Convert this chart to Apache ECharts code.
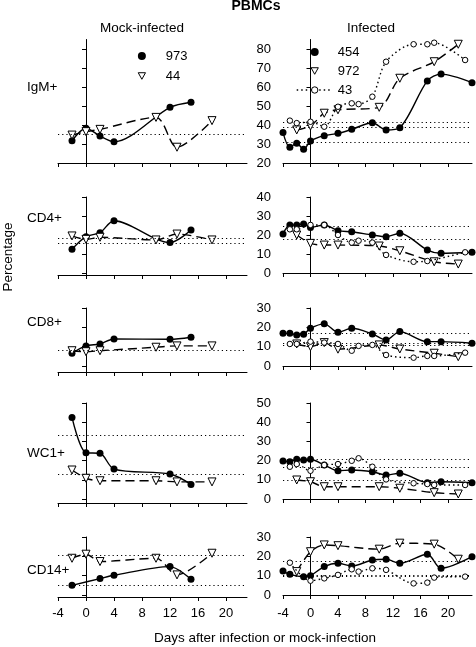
<!DOCTYPE html>
<html><head><meta charset="utf-8">
<script src="https://cdn.jsdelivr.net/npm/echarts@6/dist/echarts.min.js"></script>
<style>html,body{margin:0;padding:0;background:#fff}#c{width:476px;height:647px}</style>
</head><body><div id="c"></div>
<script>
// ---------------- DATA ----------------
const rowLabels = ['IgM+', 'CD4+', 'CD8+', 'WC1+', 'CD14+'];
const xTicks = [-4, 0, 4, 8, 12, 16, 20];
const yTicks = [[20,30,40,50,60,70,80],[0,10,20,30,40],[0,10,20,30],[0,10,20,30,40,50],[0,10,20,30]];
const yMax = [85, 40, 30, 50, 30];
const yMin = [20, 0, 0, 0, 0];

// Mock-infected animals
const days973 = [-2, 0, 2, 4, 12, 15];
const mock973 = [
  [31.7, 38.3, 34.2, 31.2, 49.3, 52],
  [12.5, 19.1, 21.2, 27.5, 16, 22.6],
  [6.6, 10.4, 11.4, 14, 13.8, 14.9],
  [42.5, 24.1, 23.8, 15.6, 13, 7.6],
  [5, null, 8.5, 10.2, 14.7, 8.1]
];
const days44 = [-2, 0, 2, 10, 13, 18];
const mock44 = [
  [34.7, 36.5, 37.7, 44, 28.3, 42.3],
  [19.5, 17.7, 18.8, 17.4, 20.5, 17.4],
  [7.9, 7.4, 7.9, 9.7, 10.4, 10.4],
  [15.1, 10.8, 9.5, 9.5, 8.9, 8.9],
  [19, 21.1, 17.3, 19, 10.4, 21.6]
];

// Infected animals
const days454 = [-4, -3, -2, -1, 0, 2, 4, 6, 9, 11, 13, 17, 19, 23.5];
const inf454 = [
  [36, 28.3, 30.4, 27.2, 31.6, 34.4, 35.6, 37.7, 41.2, 37.4, 38.6, 63.2, 66.8, 62.3],
  [20.5, 25.3, 25.3, 25.8, 24, 25.3, 22.3, 21.7, 20, 19.1, 20.9, 12.1, 10.4, 10.9],
  [16.9, 16.9, 16, 16.4, 19.5, 21.8, 17.5, 19.5, 16.6, 13.5, 17.8, 12.6, 12.6, 11.8],
  [19.8, 19.4, 20.7, 20.3, 20.7, 17.7, 14.7, 15.1, 14.2, 12.5, 13.4, 8.5, 9, 8.5],
  [12.4, 10.7, null, 9.5, 10, 14.7, 16.4, 15, 18.1, 18.5, 16.4, 21.1, 13.8, 19.8]
];
const days972 = [-2, 0, 2, 4, 10, 13, 18, 21.5];
const inf972 = [
  [37.4, 39.5, 46.2, 48, 49.3, 64.6, 73.3, 82.5],
  [20, 15.6, 14.7, 14.7, 14.2, 11.7, 5.9, 4.7],
  [11.4, 10, 12.1, 8.7, 10.9, 8.8, 6.6, 4.8],
  [9.9, 9, 6.4, 6.4, 6.4, 5.6, 3.3, 2.6],
  [12.1, 22.4, 25.9, 25.5, 23.7, 26.8, 26.3, 18.5]
];
const days43 = [-3, -2, 0, 2, 4, 6, 7, 9, 11, 15, 17, 18, 22.5];
const inf43 = [
  [42.3, 41, 41.7, 39.1, 49.6, 51.4, 51, 54.9, 73.3, 82.5, 82.5, 83.3, 74.2],
  [23, 23, 25.3, 25.3, 20, 16, 17, 16, 9.5, 5.9, 6.3, null, 10.9],
  [11.4, 11.4, 12.6, 12.1, 11.4, 7.9, 10.4, 10.9, 5.7, 4.3, 5.2, 5.2, 6.9],
  [16.8, 18.2, 14.7, 17.7, 18.2, 19.9, 21.2, 16.8, 10.2, 8.2, 7.8, 7.3, 7.3],
  [16.7, null, 7.4, 8.6, 10.4, 13.3, 12.1, 13.8, 13, 6, 6.4, 9, 9.5]
];

// dotted reference levels
const refMock = [[35.3], [18.3, 15.6], [8.3], [33.3, 13], [20.7, 4.8]];
const refInf = [[41.6, 39, 30.7], [24.4, 17.9], [17, 12, 10.5], [20.7, 16.5, 9.9], [17.3, 10.4, 9.5]];

// ---------------- LAYOUT ----------------
const FONT = '"Liberation Sans", Arial, sans-serif';
const rTop = [39.5, 197, 308, 403, 537];
const rH = [123.5, 76, 58, 96, 58];
const lExtra = [0, 2, 6, 4, 2]; // left x-axis sits slightly lower
const L_LEFT = 58, R_LEFT = 283, PW = 189;

const pairs = (d, v) => d.map((x, i) => [x, v[i]]);

const grids = [], xAxes = [], yAxes = [], series = [];
const axisCol = '#000';

function solidSeries(name, idx, data) {
  return { type: 'line', name, xAxisIndex: idx, yAxisIndex: idx, data, smooth: 0.3, connectNulls: true,
    symbol: 'circle', symbolSize: 7, itemStyle: { color: '#000' },
    lineStyle: { color: '#000', width: 1.4 }, z: 3 };
}
function dashSeries(name, idx, data) {
  return { type: 'line', name, xAxisIndex: idx, yAxisIndex: idx, data, smooth: 0.3, connectNulls: true,
    symbol: 'triangle', symbolRotate: 180, symbolSize: 8,
    itemStyle: { color: '#fff', borderColor: '#000', borderWidth: 1 },
    lineStyle: { color: '#000', width: 1.4, type: [9, 5] }, z: 4 };
}
function dotSeries(name, idx, data) {
  return { type: 'line', name, xAxisIndex: idx, yAxisIndex: idx, data, smooth: 0.3, connectNulls: true,
    symbol: 'circle', symbolSize: 5.5,
    itemStyle: { color: '#fff', borderColor: '#000', borderWidth: 1 },
    lineStyle: { color: '#000', width: 1.4, type: [1.5, 3] }, z: 5 };
}
function refLines(vals) {
  return { silent: true, symbol: ['none', 'none'], label: { show: false }, animation: false,
    lineStyle: { color: '#000', type: [1.2, 3], width: 1 },
    emphasis: { disabled: true },
    data: vals.map(v => ({ yAxis: v })) };
}

for (let r = 0; r < 5; r++) {
  const scale = rH[r] / (yMax[r] - yMin[r]);
  const last = r === 4;
  // left (mock) grid
  const li = grids.length;
  grids.push({ left: L_LEFT, width: PW, top: rTop[r], height: rH[r] + lExtra[r] });
  xAxes.push({ gridIndex: li, type: 'value', min: -4, max: 23,
    axisLine: { show: true, onZero: false, lineStyle: { color: axisCol } },
    axisTick: { show: true, length: 4, customValues: xTicks, lineStyle: { color: axisCol } },
    axisLabel: { show: last, customValues: xTicks, margin: 10, fontSize: 13, color: '#000', fontFamily: FONT },
    splitLine: { show: false } });
  yAxes.push({ gridIndex: li, type: 'value', position: 'right', min: yMin[r] - lExtra[r] / scale, max: yMax[r],
    axisLine: { show: true, lineStyle: { color: axisCol } },
    axisTick: { show: true, inside: true, length: 4, customValues: yTicks[r], lineStyle: { color: axisCol } },
    axisLabel: { show: false }, splitLine: { show: false } });
  const s1 = solidSeries('973', li, pairs(days973, mock973[r]));
  s1.markLine = refLines(refMock[r]);
  series.push(s1, dashSeries('44', li, pairs(days44, mock44[r])));

  // right (infected) grid
  const ri = grids.length;
  grids.push({ left: R_LEFT, width: PW, top: rTop[r], height: rH[r] });
  xAxes.push({ gridIndex: ri, type: 'value', min: -4, max: 23.5,
    axisLine: { show: true, onZero: false, lineStyle: { color: axisCol } },
    axisTick: { show: true, length: 4, customValues: xTicks, lineStyle: { color: axisCol } },
    axisLabel: { show: last, customValues: xTicks, margin: 12, fontSize: 13, color: '#000', fontFamily: FONT },
    splitLine: { show: false } });
  yAxes.push({ gridIndex: ri, type: 'value', position: 'left', min: yMin[r], max: yMax[r],
    axisLine: { show: true, lineStyle: { color: axisCol } },
    axisTick: { show: true, length: 4, customValues: yTicks[r], lineStyle: { color: axisCol } },
    axisLabel: { show: true, customValues: yTicks[r], margin: 12, fontSize: 13, color: '#000', fontFamily: FONT },
    splitLine: { show: false } });
  const s2 = solidSeries('454', ri, pairs(days454, inf454[r]));
  s2.markLine = refLines(refInf[r]);
  series.push(s2, dashSeries('972', ri, pairs(days972, inf972[r])), dotSeries('43', ri, pairs(days43, inf43[r])));
}

const triIcon = 'path://M-1,-1M11,10M0,0L10,0L5,9Z';
const legendText = { fontSize: 13, color: '#000', fontFamily: FONT };
const openStyle = { color: '#fff', borderColor: '#000', borderWidth: 1 };
const legends = [
  { left: 137, top: 49.5, padding: 0, orient: 'vertical', itemWidth: 38, itemHeight: 8, itemGap: 7, selectedMode: false,
    textStyle: legendText,
    data: [
      { name: '973', icon: 'circle', itemStyle: { color: '#000' } },
      { name: '44', icon: triIcon, itemStyle: openStyle }
    ] },
  { left: 296, top: 45.5, padding: 0, orient: 'vertical', itemWidth: 36, itemHeight: 8, itemGap: 6, selectedMode: false,
    textStyle: legendText,
    data: [
      { name: '454', icon: 'circle', itemStyle: { color: '#000' } },
      { name: '972', icon: triIcon, itemStyle: openStyle },
      { name: '43', itemStyle: openStyle, lineStyle: { color: '#000', width: 1.4, type: [1.5, 3] } }
    ] }
];

function txt(text, x, y, size, opts) {
  opts = opts || {};
  return { type: 'text', x, y, rotation: opts.rot || 0, silent: true,
    style: { text, x: 0, y: 0, fill: '#000', textAlign: opts.align || 'center', textVerticalAlign: 'middle',
      font: (opts.bold ? 'bold ' : '') + size + 'px ' + FONT } };
}
const rowLabelY = [87, 218, 322, 453, 570];
const graphics = [
  txt('PBMCs', 256, 6, 14, { bold: true }),
  txt('Mock-infected', 142, 28, 13.5),
  txt('Infected', 371, 28, 13.5),
  txt('Percentage', 8, 257, 13.5, { rot: Math.PI / 2 }),
  txt('Days after infection or mock-infection', 265, 638, 13.5)
].concat(rowLabels.map((t, i) => txt(t, 27, rowLabelY[i], 13.5, { align: 'left' })));

const chart = echarts.init(document.getElementById('c'), null, { renderer: 'canvas' });
chart.setOption({
  animation: false,
  backgroundColor: '#fff',
  grid: grids, xAxis: xAxes, yAxis: yAxes, series, legend: legends, graphic: graphics
});
</script></body></html>
